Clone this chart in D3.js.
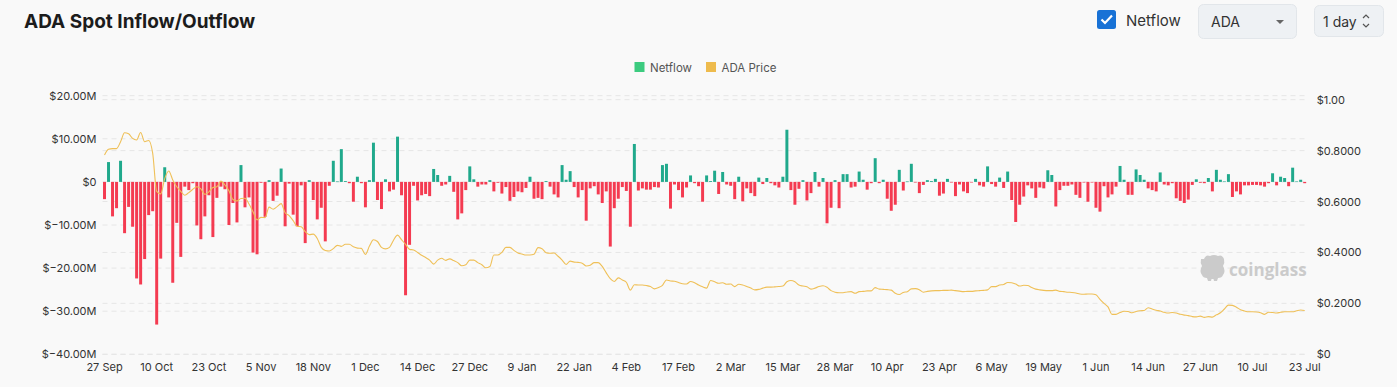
<!DOCTYPE html>
<html>
<head>
<meta charset="utf-8">
<script src="https://cdn.jsdelivr.net/npm/d3@7"></script>
<style>
  html, body { margin: 0; padding: 0; background: #f9f9f9; }
  svg { display: block; font-family: Inter, "Noto Sans", sans-serif; }
</style>
</head>
<body>
<svg id="chart" width="1397" height="387"></svg>
<script>
// daily netflow, millions of USD (27 Sep -> 23 Jul)
const netflow = [
  -4.0, 4.6, -8.0, -6.1, 4.9, -11.9, -5.8, -10.4, -22.4, -23.8, -17.9, -7.7, -6.8, -33.1, -17.8, 3.4, -3.6, -23.4, -9.5, -17.4,
  -1.1, -1.9, -0.3, -10.1, -13.3, -8.0, -3.1, -12.8, -3.7, -1.1, -1.7, -10.0, -4.9, -9.4, 3.9, -5.9, -3.6,
  -16.4, -16.8, -0.2, -8.1, 0.4, -4.4, -3.2, 3.1, -10.3, -0.4, -7.6, -10.3, -0.8, -14.2, 0.4, -4.2, -8.7, -6.0, -13.8, -0.9,
  4.9, 0.1, 7.6, 0.2, -0.3, -4.6, 1.2, -0.3, -5.9, 0.4, 9.1, -4.2, -6.3, 0.6, -2.2, -1.8, 10.5, -3.1,
  -26.3, -14.6, -0.9, -4.3, -3.1, -2.8, -3.3, 3.0, 1.6, -0.9, -0.6, 1.4, -2.3, -8.7, -7.3, -1.9, 3.6, 0.6, -1.1, -0.6,
  -0.6, 0.4, -2.2, -0.2, -2.7, -1.2, -4.4, -3.5, -2.2, -2.4, -1.4, 1.2, -3.9, -3.7, -4.0, 0.2, -1.1, -2.9,
  -3.6, 3.9, 0.5, 2.5, -1.2, -3.6, -1.9, -9.0, -1.5, -1.0, -2.9, -4.9, -2.2, -15.0, -6.1, -3.9, -1.2, -2.1, -10.4, 8.8,
  -2.0, -1.5, -1.8, -1.8, -1.2, -1.3, 3.9, 4.2, -6.2, -0.6, -1.9, -3.6, -1.3, 1.5, -0.3, -1.0, -4.6, 1.5,
  0.2, 2.6, -2.8, 2.3, -0.6, -0.9, -4.0, 1.2, -4.5, -1.5, -2.6, -3.3, 1.0, -0.5, 0.9, -0.3, -0.8, -1.3, 1.2, 12.1,
  -1.9, -5.3, -1.6, 0.4, -4.3, -2.6, 2.3, -1.1, 0.9, -9.6, -6.0, 0.4, -6.1, 1.8, 1.8, -1.3, -1.1, 2.4,
  0.5, -1.8, -0.3, 5.5, -0.3, 0.5, -3.9, -6.7, -5.3, 2.8, -2.0, 0.1, 4.2, -0.1, -2.6, -0.7, 0.4, 0.2, 0.7, -3.2,
  -2.7, 0.7, -0.1, -3.3, -0.6, -2.2, -2.6, -0.1, 0.7, -0.8, -1.1, 3.6, -0.5, -1.1, 1.0, -1.4, 2.4, -4.2,
  -9.3, -5.3, -3.4, -0.8, -1.5, -3.7, -1.3, -1.5, 2.7, 1.6, -5.7, -1.9, -0.9, -0.9, -0.6, -3.0, -3.7, -0.1, -4.6, -0.1,
  -6.0, -6.9, -1.0, -3.6, -2.9, -1.1, 3.7, 0.5, -3.0, -3.0, 2.9, 1.6, 0.5, -1.5, -1.9, -2.2, 2.2,
  -0.6, -0.8, -0.3, -3.8, -4.4, -4.9, -4.1, -0.7, 0.6, -0.2, -0.3, 0.9, -2.2, 2.8, 0.5, 0.1, 1.8, -3.5, -2.2, -2.9,
  -0.8, -0.8, -0.7, -0.7, -0.8, -1.1, -0.3, 2.0, -0.8, 1.2, 0.9, -1.0, 3.3, 0.1, 0.5, -0.3
];

// ADA price, USD
const price = [
  0.783, 0.805, 0.808, 0.808, 0.835, 0.870, 0.866, 0.848, 0.842, 0.871, 0.835, 0.840, 0.790, 0.640, 0.630, 0.690, 0.720, 0.685, 0.658, 0.640,
  0.625, 0.635, 0.648, 0.658, 0.650, 0.628, 0.638, 0.655, 0.658, 0.680, 0.665, 0.642, 0.608, 0.602, 0.612, 0.613, 0.590,
  0.560, 0.528, 0.538, 0.537, 0.578, 0.570, 0.580, 0.592, 0.556, 0.545, 0.525, 0.503, 0.501, 0.482, 0.470, 0.472, 0.455, 0.420, 0.408, 0.406,
  0.415, 0.428, 0.424, 0.432, 0.432, 0.422, 0.417, 0.416, 0.392, 0.425, 0.450, 0.443, 0.420, 0.414, 0.420, 0.448, 0.468, 0.450,
  0.432, 0.412, 0.410, 0.400, 0.389, 0.380, 0.370, 0.354, 0.370, 0.377, 0.369, 0.375, 0.368, 0.360, 0.348, 0.352, 0.370, 0.370, 0.360, 0.352,
  0.340, 0.345, 0.390, 0.390, 0.400, 0.420, 0.420, 0.408, 0.398, 0.394, 0.390, 0.390, 0.393, 0.419, 0.415, 0.399, 0.397, 0.398,
  0.385, 0.370, 0.353, 0.366, 0.362, 0.361, 0.358, 0.347, 0.350, 0.360, 0.360, 0.345, 0.320, 0.297, 0.286, 0.300, 0.292, 0.283, 0.252, 0.273,
  0.272, 0.272, 0.270, 0.266, 0.257, 0.262, 0.271, 0.292, 0.288, 0.287, 0.282, 0.277, 0.276, 0.286, 0.281, 0.272, 0.265, 0.260,
  0.290, 0.285, 0.279, 0.281, 0.275, 0.276, 0.266, 0.275, 0.272, 0.266, 0.260, 0.253, 0.255, 0.260, 0.264, 0.264, 0.265, 0.266, 0.268, 0.285,
  0.290, 0.285, 0.272, 0.268, 0.265, 0.256, 0.260, 0.266, 0.269, 0.263, 0.250, 0.244, 0.242, 0.242, 0.245, 0.246, 0.240, 0.246,
  0.247, 0.249, 0.249, 0.262, 0.256, 0.255, 0.254, 0.252, 0.240, 0.235, 0.243, 0.246, 0.257, 0.258, 0.254, 0.244, 0.247, 0.249, 0.250, 0.250,
  0.251, 0.251, 0.252, 0.250, 0.248, 0.246, 0.247, 0.247, 0.249, 0.250, 0.251, 0.253, 0.266, 0.266, 0.272, 0.274, 0.282, 0.281,
  0.276, 0.268, 0.271, 0.270, 0.262, 0.256, 0.253, 0.251, 0.250, 0.250, 0.252, 0.247, 0.246, 0.244, 0.243, 0.241, 0.237, 0.236, 0.237, 0.237,
  0.234, 0.216, 0.200, 0.186, 0.157, 0.157, 0.164, 0.169, 0.168, 0.163, 0.168, 0.171, 0.172, 0.183, 0.178, 0.173, 0.170,
  0.165, 0.162, 0.164, 0.162, 0.157, 0.154, 0.152, 0.148, 0.147, 0.150, 0.145, 0.148, 0.146, 0.155, 0.163, 0.178, 0.193, 0.192, 0.185, 0.175,
  0.170, 0.167, 0.167, 0.166, 0.163, 0.157, 0.165, 0.164, 0.162, 0.165, 0.167, 0.167, 0.167, 0.171, 0.174, 0.172
];

// categories: one per day
const startDay = new Date(2025, 8, 27);
const days = d3.range(netflow.length).map(i => d3.timeDay.offset(startDay, i));
const leftTicks = [20, 10, 0, -10, -20, -30, -40];
const rightTicks = [1, 0.8, 0.6, 0.4, 0.2, 0];
const labelEvery = 13;

const GREEN = "#20a98c", RED = "#f43b51", GOLD = "#efc058";

const svg = d3.select("#chart");
const m = {left: 102.5, right: 1306.7, top: 95.7, bottom: 354.3};

const x = d3.scaleBand().domain(d3.range(days.length)).range([m.left, m.right]).paddingInner(0.26).paddingOuter(0.13);
const y = d3.scaleLinear().domain([-40, 20]).range([m.bottom, m.top]);
const y2 = d3.scaleLinear().domain([0, 1]).range([m.bottom, 99.7]);

// header
svg.append("text").attr("x", 24).attr("y", 28).attr("font-size", 19).attr("font-weight", 700)
  .attr("fill", "#1c1c1c").text("ADA Spot Inflow/Outflow");

const hdr = svg.append("g");
hdr.append("rect").attr("x", 1097).attr("y", 10).attr("width", 19).attr("height", 19).attr("rx", 2.5).attr("fill", "#1872d6");
hdr.append("path").attr("d", "M1101.5 19.5 L1105 23 L1112 15.5").attr("fill", "none").attr("stroke", "#fff").attr("stroke-width", 2.2);
hdr.append("text").attr("x", 1126).attr("y", 26).attr("font-size", 15).attr("fill", "#333").text("Netflow");

hdr.append("rect").attr("x", 1198.5).attr("y", 4.5).attr("width", 98).attr("height", 34).attr("rx", 5)
  .attr("fill", "#eef1f4").attr("stroke", "#e2e6ea");
hdr.append("text").attr("x", 1211).attr("y", 27).attr("font-size", 14).attr("fill", "#333").text("ADA");
hdr.append("path").attr("d", "M1276 20 L1284 20 L1280 24 Z").attr("fill", "#666");

hdr.append("rect").attr("x", 1314.5).attr("y", 5.5).attr("width", 69).attr("height", 31).attr("rx", 5)
  .attr("fill", "#eef1f4").attr("stroke", "#e2e6ea");
hdr.append("text").attr("x", 1323).attr("y", 27).attr("font-size", 14).attr("fill", "#333").text("1 day");
hdr.append("path").attr("d", "M1363 18 L1366 15 L1369 18 M1363 24 L1366 27 L1369 24")
  .attr("fill", "none").attr("stroke", "#555").attr("stroke-width", 1.2);

// legend
const leg = svg.append("g").attr("font-size", 11.5).attr("fill", "#555");
leg.append("rect").attr("x", 634.5).attr("y", 62).attr("width", 10).attr("height", 10).attr("fill", "#3ccb7f");
leg.append("text").attr("x", 650).attr("y", 71.5).text("Netflow");
leg.append("rect").attr("x", 706).attr("y", 62).attr("width", 10).attr("height", 10).attr("fill", "#eebb4d");
leg.append("text").attr("x", 721.5).attr("y", 71.5).text("ADA Price");

// grid lines, both axes
const grid = svg.append("g").attr("stroke", "#e6e6e6").attr("stroke-dasharray", "5,4");
grid.selectAll(".gl").data(leftTicks).join("line")
  .attr("x1", m.left).attr("x2", m.right).attr("y1", d => y(d)).attr("y2", d => y(d));
grid.selectAll(".gr").data(rightTicks).join("line")
  .attr("x1", m.left).attr("x2", m.right).attr("y1", d => y2(d)).attr("y2", d => y2(d));

// axes
const fmtL = d => d === 0 ? "$0" : "$" + d3.format(".2f")(d) + "M";
const fmtR = d => d === 0 ? "$0" : d === 1 ? "$1.00" : "$" + d3.format(".4f")(d);

const axL = svg.append("g").attr("transform", `translate(${m.left - 6},0)`)
  .call(d3.axisLeft(y).tickValues(leftTicks).tickFormat(fmtL).tickSize(0).tickPadding(0));
const axR = svg.append("g").attr("transform", `translate(${m.right + 10},0)`)
  .call(d3.axisRight(y2).tickValues(rightTicks).tickFormat(fmtR).tickSize(0).tickPadding(0));
const axB = svg.append("g").attr("transform", `translate(0,${m.bottom})`)
  .call(d3.axisBottom(x).tickValues(d3.range(0, days.length, labelEvery))
    .tickFormat(i => d3.timeFormat("%-d %b")(days[i])).tickSize(0).tickPadding(9));
[axL, axR, axB].forEach(a => {
  a.select(".domain").remove();
  a.selectAll("text").attr("font-size", 11).attr("fill", "#333").attr("font-family", "Inter, 'Noto Sans', sans-serif");
});

// watermark
const wm = svg.append("g").attr("fill", "#cbcbcb");
wm.append("path").attr("d", "M1204 259 q2 -5 6 -3 q4 -2 8 0 q4 -2 6 3 q1 4 -1 7 q3 5 0 9 q-1 3 -5 3 l-1 3 h-3 l-0.5 -2 h-2 l-0.5 2 h-3 l-1 -3 q-4 0 -5 -3 q-3 -4 0 -9 q-2 -3 -1 -7 z");
wm.append("text").attr("x", 1229).attr("y", 276).attr("font-size", 17).attr("font-weight", 700)
  .attr("font-family", "'Open Sans', sans-serif").text("coinglass");

// netflow bars
svg.append("g").selectAll("rect").data(netflow).join("rect")
  .attr("x", (d, i) => x(i))
  .attr("width", x.bandwidth())
  .attr("y", d => y(Math.max(0, d)))
  .attr("height", d => Math.max(0.6, Math.abs(y(d) - y(0))))
  .attr("fill", d => d >= 0 ? GREEN : RED);

// price line
const line = d3.line()
  .x((d, i) => x(i) + x.bandwidth() / 2)
  .y(d => y2(d))
  .curve(d3.curveMonotoneX);
svg.append("path").datum(price).attr("d", line)
  .attr("fill", "none").attr("stroke", GOLD).attr("stroke-width", 1.1);
</script>
</body>
</html>
